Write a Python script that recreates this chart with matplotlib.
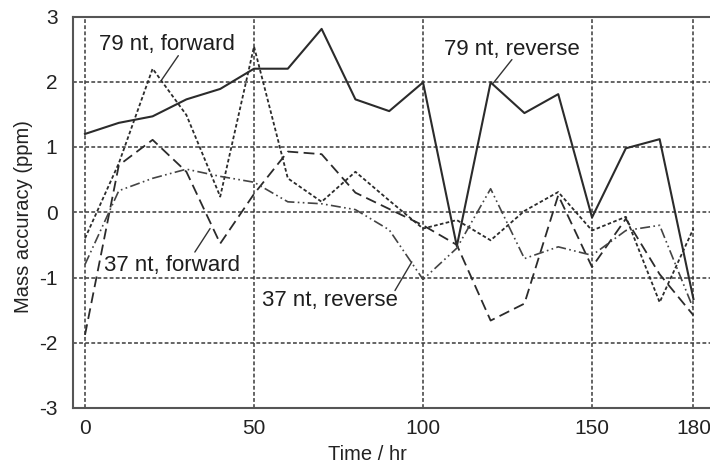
import numpy as np
import matplotlib
matplotlib.use('Agg')
import matplotlib.pyplot as plt

plt.rcParams['font.family'] = ['Liberation Sans', 'DejaVu Sans']
plt.rcParams['axes.unicode_minus'] = False

# Sampling times (hr)
time_hr = [0, 10, 20, 30, 40, 50, 60, 70, 80, 90, 100, 110, 120, 130, 140, 150, 160, 170, 180]

# Mass accuracy (ppm) per series
nt79_reverse = [1.20, 1.37, 1.47, 1.73, 1.89, 2.20, 2.20, 2.81, 1.73, 1.55, 1.99, -0.52, 1.99,
                1.52, 1.81, -0.08, 0.98, 1.12, -1.33]
nt79_forward = [-0.40, 0.75, 2.20, 1.49, 0.24, 2.54, 0.52, 0.16, 0.62, 0.18, -0.25, -0.12, -0.43,
                0.02, 0.31, -0.28, -0.07, -1.38, -0.25]
nt37_forward = [-1.88, 0.72, 1.11, 0.62, -0.48, 0.28, 0.93, 0.89, 0.30, 0.05, -0.20, -0.50, -1.66,
                -1.40, 0.26, -0.84, -0.10, -0.95, -1.58]
nt37_reverse = [-0.80, 0.33, 0.52, 0.66, 0.55, 0.46, 0.16, 0.13, 0.04, -0.27, -1.03, -0.55, 0.36,
                -0.71, -0.53, -0.66, -0.28, -0.20, -1.48]

x_ticks = [0, 50, 100, 150, 180]
y_ticks = [-3, -2, -1, 0, 1, 2, 3]

LINE_CLR = '#2b2b2b'
GRID_CLR = '#3a3a3a'

fig = plt.figure(figsize=(7.1, 4.7), dpi=100)
ax = fig.add_axes([72.7 / 710, 62 / 470, 1 - 72.7 / 710, (408 - 16.5) / 470])

ax.plot(time_hr, nt79_reverse, color=LINE_CLR, lw=1.5, ls='-')
ax.plot(time_hr, nt79_forward, color=LINE_CLR, lw=1.3, dashes=(2.0, 1.3))
ax.plot(time_hr, nt37_forward, color=LINE_CLR, lw=1.3, dashes=(6, 3))
ax.plot(time_hr, nt37_reverse, color='#444444', lw=1.2, dashes=(6, 2, 1, 2, 1, 2))

ax.set_xlim(-3.64, 184.9)
ax.set_ylim(-3, 3)
ax.set_xticks(x_ticks)
ax.set_yticks(y_ticks)
ax.tick_params(length=0, labelsize=15, colors='#222222')
ax.tick_params(axis='y', pad=11)
ax.tick_params(axis='x', pad=8)
ax.grid(True, color=GRID_CLR, lw=1.1, dashes=(2.5, 1.5))
ax.set_axisbelow(True)

for side in ['left', 'bottom', 'top']:
    ax.spines[side].set_color('#555555')
    ax.spines[side].set_linewidth(1.5)
ax.spines['right'].set_visible(False)

ax.set_xlabel('Time / hr', fontsize=14.5, color='#222222')
ax.set_ylabel('Mass accuracy (ppm)', fontsize=14.5, color='#222222')
ax.xaxis.set_label_coords(0.463, -0.094)
ax.yaxis.set_label_coords(-0.063, 0.49)

# Labels with leader lines
labels = [
    ('79 nt, forward', (24.1, 2.57), (27.6, 2.40), (22.7, 2.03)),
    ('79 nt, reverse', (126.3, 2.49), (126.3, 2.34), (120.8, 1.98)),
    ('37 nt, forward', (25.7, -0.82), (32.5, -0.61), (37.0, -0.25)),
    ('37 nt, reverse', (72.5, -1.35), (91.7, -1.20), (96.7, -0.76)),
]
for txt, pos, start, end in labels:
    ax.text(pos[0], pos[1], txt, fontsize=16, color='#1e1e1e', ha='center', va='center')
    ax.annotate('', xy=end, xytext=start,
                arrowprops=dict(arrowstyle='-', lw=1.0, color='#333333',
                                shrinkA=0, shrinkB=0))

fig.savefig('out.png', dpi=100)
